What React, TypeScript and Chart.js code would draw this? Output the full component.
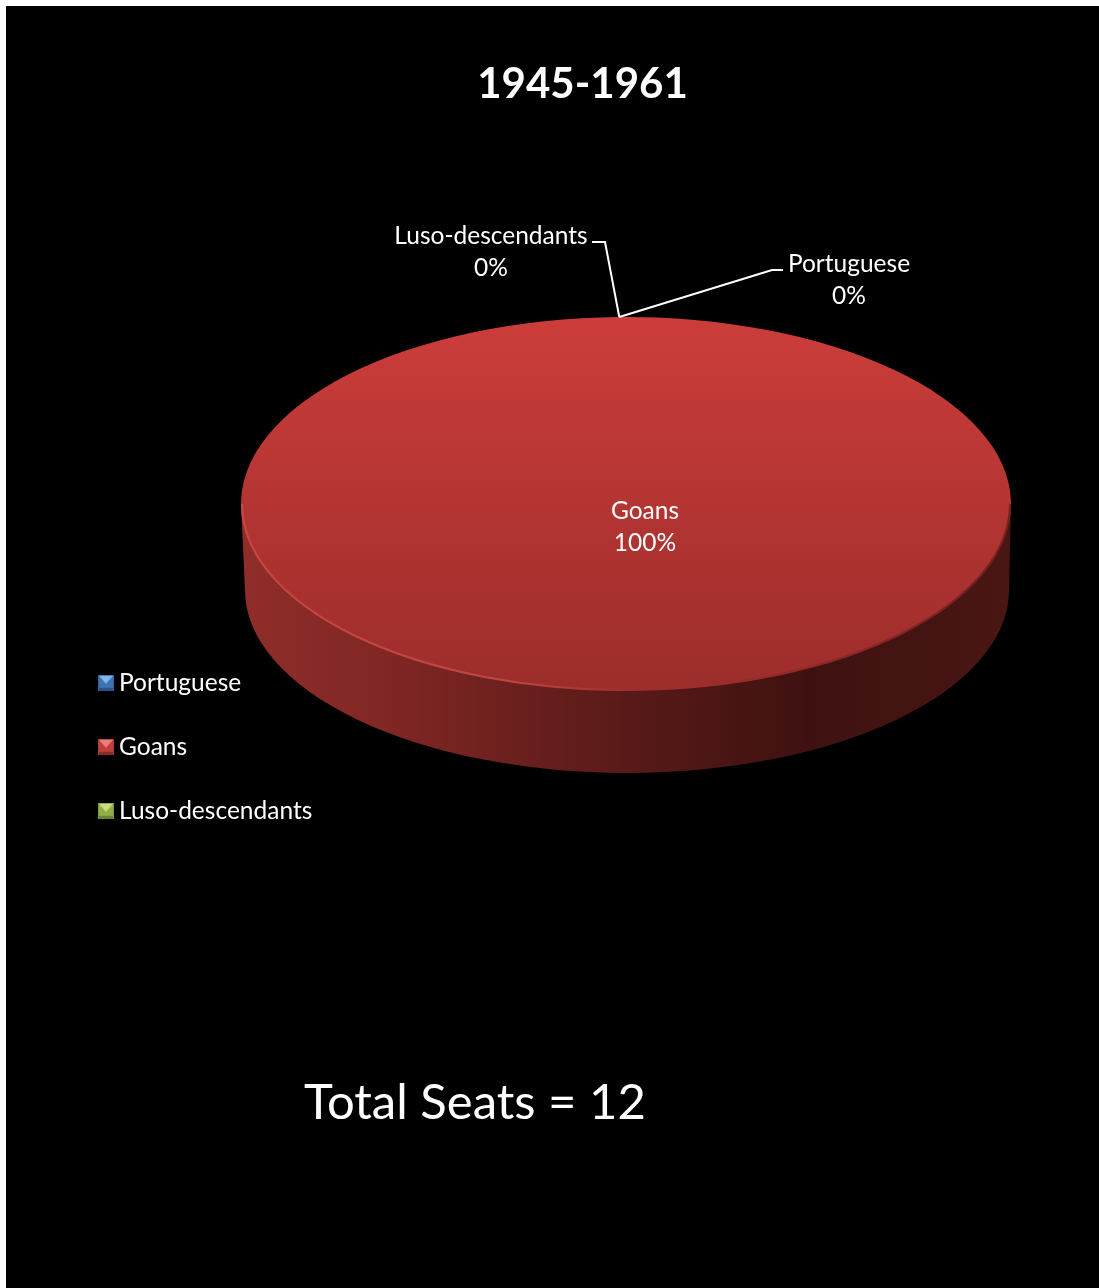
import React, { useEffect, useRef } from "react";
import { Chart, registerables } from "chart.js";

Chart.register(...registerables);

// Seat shares for the period
const categories = ["Portuguese", "Goans", "Luso-descendants"];
const seats = [0, 12, 0];
const legendColors = [
  ["#3f74b4", "#2f5f9c", "#2a5288", "#7fb6ee"],
  ["#bf3f3c", "#a83633", "#8c2c2a", "#ea7f7a"],
  ["#8fb045", "#7c9a3c", "#6a8433", "#c8e07e"],
];
const chartTitle = "1945-1961";
const footnote = "Total Seats = 12";

const FONT = "Lato, 'Open Sans', sans-serif";
const WIDTH = 1099;
const HEIGHT = 1288;
const FRAME = 6;

// Disc geometry on the page
const DISC = { cx: 626, cy: 504, rx: 385, ry: 187 };
const BASE = { cx: 627, cy: 590, rx: 382, ry: 183 };

// Where each percentage label and its leader sit; null leader means the label lies on the slice
const labelLayout = [
  { x: 849, y: 264, leader: [[772, 270], [783, 270]] },
  { x: 645, y: 511, leader: null },
  { x: 491, y: 236, leader: [[605, 242], [592, 242]] },
];

// Small bevelled square used as the legend key
function bevelledKey(colors: string[]) {
  const size = 16;
  const c = document.createElement("canvas");
  c.width = size;
  c.height = size;
  const g = c.getContext("2d")!;
  const [mid, side, bottom, top] = colors;
  g.fillStyle = mid;
  g.fillRect(0, 0, size, size);
  const tri = (pts: number[][], fill: string) => {
    g.fillStyle = fill;
    g.beginPath();
    g.moveTo(pts[0][0], pts[0][1]);
    pts.slice(1).forEach((p) => g.lineTo(p[0], p[1]));
    g.closePath();
    g.fill();
  };
  tri([[0, 0], [16, 0], [8, 9]], top);
  tri([[0, 16], [16, 16], [16, 13], [0, 13]], bottom);
  g.fillStyle = side;
  g.fillRect(0, 0, 1, size);
  g.fillRect(15, 0, 1, size);
  g.fillRect(0, 0, size, 1);
  return c;
}

function discArc(chart: any) {
  const meta = chart.getDatasetMeta(0);
  return meta.data[0] as any;
}

const pieDepthPlugin = {
  id: "pieDepth",
  beforeDraw(chart: any) {
    const { ctx } = chart;
    ctx.save();
    ctx.fillStyle = "#000000";
    ctx.fillRect(FRAME, FRAME, WIDTH - FRAME, HEIGHT - FRAME);
    ctx.restore();
  },
  afterLayout(chart: any) {
    // Title and legend keep their own drawing; only their placement moves
    const t = chart.titleBlock;
    if (t) {
      t.left += 33;
      t.right += 33;
    }
    const l = chart.legend;
    if (l) {
      const w = l.width;
      l.left = 65.75;
      l.right = 65.75 + w;
      l.top = 631;
      l.bottom = 1100;
    }
  },
  beforeDatasetsDraw(chart: any) {
    const { ctx } = chart;
    const arc = discArc(chart);
    // Cylinder wall below the front half of the disc
    const wall = ctx.createLinearGradient(BASE.cx - BASE.rx, 0, BASE.cx + BASE.rx, 0);
    wall.addColorStop(0, "#8f2d2a");
    wall.addColorStop(0.2, "#7f2623");
    wall.addColorStop(0.5, "#581a18");
    wall.addColorStop(0.74, "#3e1110");
    wall.addColorStop(0.88, "#441412");
    wall.addColorStop(1, "#4a1614");
    ctx.save();
    ctx.fillStyle = wall;
    ctx.beginPath();
    ctx.moveTo(DISC.cx - DISC.rx, DISC.cy);
    ctx.lineTo(BASE.cx - BASE.rx, BASE.cy);
    ctx.ellipse(BASE.cx, BASE.cy, BASE.rx, BASE.ry, 0, Math.PI, 0, true);
    ctx.lineTo(DISC.cx + DISC.rx, DISC.cy);
    ctx.closePath();
    ctx.fill();
    ctx.restore();

    // Flatten the round pie into the disc ellipse
    ctx.save();
    ctx.translate(DISC.cx, DISC.cy);
    ctx.scale(DISC.rx / arc.outerRadius, DISC.ry / arc.outerRadius);
    ctx.translate(-arc.x, -arc.y);
  },
  afterDatasetsDraw(chart: any) {
    const { ctx } = chart;
    const arc = discArc(chart);
    ctx.restore();

    // Lit rim on the left of the front edge, shaded rim on the right
    const rim = ctx.createLinearGradient(DISC.cx - DISC.rx, 0, DISC.cx + DISC.rx, 0);
    rim.addColorStop(0, "rgba(226,92,84,0.5)");
    rim.addColorStop(0.35, "rgba(226,92,84,0.5)");
    rim.addColorStop(0.52, "rgba(226,92,84,0)");
    rim.addColorStop(0.6, "rgba(60,14,12,0)");
    rim.addColorStop(1, "rgba(60,14,12,0.5)");
    ctx.save();
    ctx.strokeStyle = rim;
    ctx.lineWidth = 2;
    ctx.beginPath();
    ctx.ellipse(DISC.cx, DISC.cy, DISC.rx - 1, DISC.ry - 1, 0, Math.PI, 0, true);
    ctx.stroke();
    ctx.restore();

    // Percentage labels and leaders, driven by the data
    const total = seats.reduce((a, b) => a + b, 0);
    const start = arc.startAngle;
    const anchorX = DISC.cx + DISC.rx * Math.cos(start);
    const anchorY = DISC.cy + DISC.ry * Math.sin(start);
    ctx.save();
    ctx.fillStyle = "#ffffff";
    ctx.strokeStyle = "#ffffff";
    ctx.lineWidth = 2;
    ctx.textAlign = "center";
    ctx.textBaseline = "middle";
    ctx.font = `24.5px ${FONT}`;
    categories.forEach((name, i) => {
      const spot = labelLayout[i];
      ctx.fillText(name, spot.x, spot.y);
      ctx.fillText(`${Math.round((seats[i] / total) * 100)}%`, spot.x, spot.y + 32);
      if (spot.leader) {
        ctx.beginPath();
        ctx.moveTo(anchorX, anchorY);
        spot.leader.forEach((p) => ctx.lineTo(p[0], p[1]));
        ctx.stroke();
      }
    });
    ctx.textAlign = "left";
    ctx.font = `49px ${FONT}`;
    ctx.fillText(footnote, 304, 1103);
    ctx.restore();
  },
};

export default function App() {
  const ref = useRef<HTMLCanvasElement>(null);

  useEffect(() => {
    const keys = legendColors.map(bevelledKey);
    const chart = new Chart(ref.current!, {
      type: "pie",
      data: {
        labels: categories,
        datasets: [
          {
            data: seats,
            clip: false,
            borderWidth: 0,
            backgroundColor: (c: any) => {
              const area = c.chart.chartArea;
              if (!area) return "#b33533";
              const mid = (area.top + area.bottom) / 2;
              const g = c.chart.ctx.createLinearGradient(0, mid - DISC.rx, 0, mid + DISC.rx);
              g.addColorStop(0, "#cc3d3a");
              g.addColorStop(1, "#9c2d2b");
              return g;
            },
          },
        ],
      } as any,
      options: {
        animation: false,
        responsive: false,
        events: [],
        rotation: -1,
        radius: DISC.rx,
        layout: { padding: 0 },
        plugins: {
          tooltip: { enabled: false },
          title: {
            display: true,
            text: chartTitle,
            color: "#ffffff",
            align: "center",
            font: { family: FONT, size: 42, weight: "bold" },
            padding: { top: 59, bottom: 10 },
          },
          legend: {
            display: true,
            position: "left",
            align: "start",
            labels: {
              color: "#ffffff",
              font: { family: FONT, size: 24.5 },
              usePointStyle: true,
              pointStyleWidth: 1.5,
              padding: 39.5,
              generateLabels: () =>
                categories.map((text, i) => ({
                  text,
                  pointStyle: keys[i],
                  fontColor: "#ffffff",
                  lineWidth: 0,
                  hidden: false,
                  index: i,
                })),
            },
          },
        },
      } as any,
      plugins: [pieDepthPlugin],
    });
    return () => chart.destroy();
  }, []);

  return (
    <canvas
      ref={ref}
      width={WIDTH}
      height={HEIGHT}
      style={{ position: "absolute", left: 0, top: 0, display: "block" }}
    />
  );
}
